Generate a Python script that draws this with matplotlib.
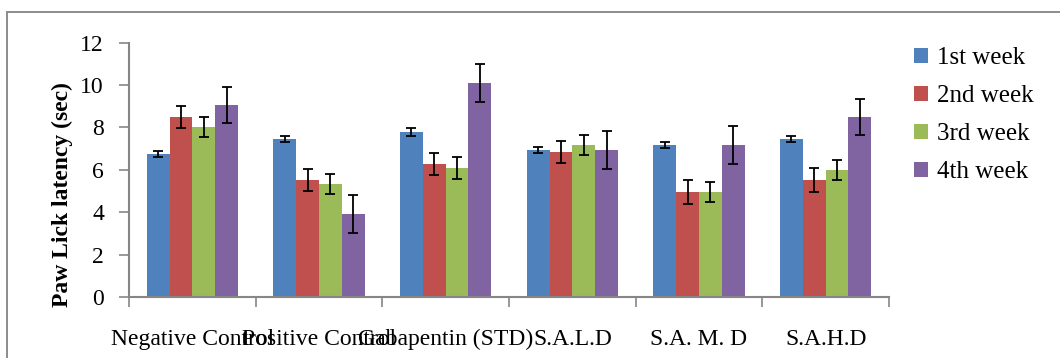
import numpy as np
import matplotlib.pyplot as plt
from matplotlib.patches import Rectangle

# ===============================================
# Paw lick latency by treatment group and week
# ===============================================

groups = ["Negative Control", "Positive Control", "Gabapentin (STD)",
          "S.A.L.D", "S.A. M. D", "S.A.H.D"]
weeks = ["1st week", "2nd week", "3rd week", "4th week"]

week1 = [6.74, 7.45, 7.78, 6.93, 7.17, 7.45]
week2 = [8.49, 5.51, 6.27, 6.83, 4.94, 5.51]
week3 = [8.02, 5.32, 6.08, 7.17, 4.94, 5.98]
week4 = [9.06, 3.91, 10.09, 6.93, 7.17, 8.49]

err1 = [0.14, 0.13, 0.19, 0.15, 0.13, 0.14]
err2 = [0.52, 0.52, 0.52, 0.52, 0.56, 0.56]
err3 = [0.48, 0.47, 0.52, 0.47, 0.48, 0.47]
err4 = [0.85, 0.89, 0.90, 0.90, 0.90, 0.85]

colors = ["#4F81BD", "#C0504D", "#9BBB59", "#8064A2"]
axis_grey = "#868686"

plt.rcParams["font.family"] = ["Liberation Serif", "DejaVu Serif"]

fig = plt.figure(figsize=(10.6, 3.58), dpi=100)
ax = fig.add_axes([129 / 1060, 61 / 358, 760 / 1060, 254.3 / 358])

x = np.arange(len(groups))
width = 0.18
series = [week1, week2, week3, week4]
errors = [err1, err2, err3, err4]

for i, (vals, errs) in enumerate(zip(series, errors)):
    offset = (i - 1.5) * width
    ax.bar(x + offset, vals, width, color=colors[i], label=weeks[i],
           yerr=errs, capsize=3.5,
           error_kw={"elinewidth": 1.3, "capthick": 1.3, "ecolor": "black"})

# ===============================================
# Axes styling
# ===============================================

ax.set_xlim(-0.5, len(groups) - 0.5)
ax.set_ylim(0, 12)
ax.set_yticks(range(0, 13, 2))
ax.tick_params(axis="y", labelsize=17, direction="out", length=7,
               width=1.2, color=axis_grey, pad=11)

ax.set_xticks(x)
ax.set_xticklabels(groups)
ax.set_xticks(np.arange(-0.5, len(groups)), minor=True)
ax.tick_params(axis="x", which="major", length=0, labelsize=17, pad=23)
ax.tick_params(axis="x", which="minor", length=7, width=1.2,
               color=axis_grey, direction="out")

for side in ["top", "right"]:
    ax.spines[side].set_visible(False)
for side in ["left", "bottom"]:
    ax.spines[side].set_color(axis_grey)
    ax.spines[side].set_linewidth(1.5)

fig.text(62 / 1060, 1 - 195 / 358, "Paw Lick latency (sec)", rotation=90,
         fontsize=17, fontweight="bold", ha="center", va="center")

fig.legend(loc="center left", bbox_to_anchor=(914 / 1060, 1 - 115.5 / 358),
           frameon=False, fontsize=18, borderpad=0, borderaxespad=0,
           handlelength=0.56, handleheight=0.56, handletextpad=0.36,
           labelspacing=0.64)

# outer chart border
fig.patches.append(Rectangle((7 / 1060, -0.1), 1.2, 1 - 12 / 358 + 0.1,
                             transform=fig.transFigure, fill=False,
                             edgecolor="#8c8c8c", linewidth=1.4))

fig.savefig("out.png", dpi=100)
plt.close(fig)
